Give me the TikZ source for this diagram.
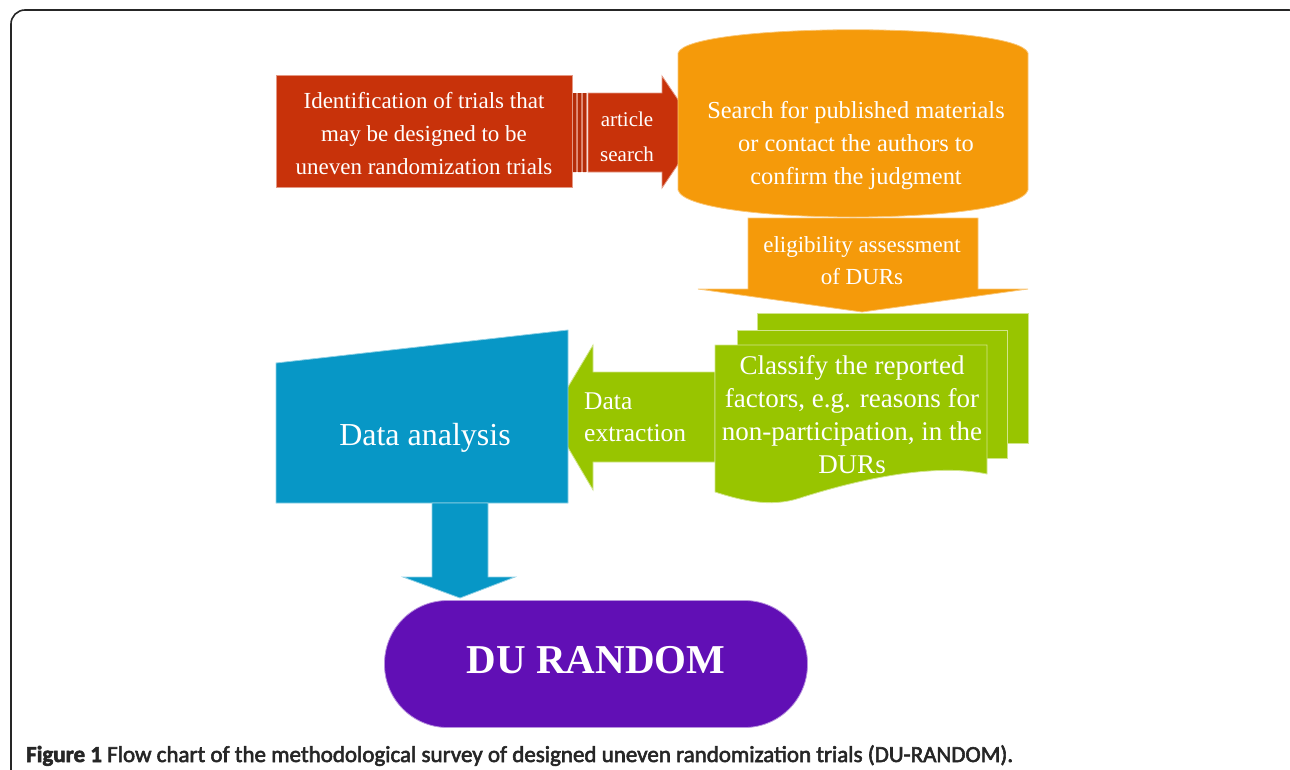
\documentclass[tikz,border=0pt]{standalone}
\usepackage{fontspec}
\setmainfont{Liberation Serif}
\newfontfamily\capfont[FakeBold=2.5]{Carlito}
\usetikzlibrary{positioning}
\definecolor{idred}{HTML}{C8320A}
\definecolor{srchorange}{HTML}{F59A0A}
\definecolor{docgreen}{HTML}{98C500}
\definecolor{anablue}{HTML}{0797C6}
\definecolor{durpurple}{HTML}{610FB5}

\begin{document}
\begin{tikzpicture}[x=1pt,y=-1pt,
		redshape/.style={fill=idred,draw=idred!50!white,line width=0.8pt},
		orangeshape/.style={fill=srchorange,draw=srchorange!55!white,line width=0.8pt},
		greenshape/.style={fill=docgreen,draw=docgreen!45!white,line width=0.8pt},
		blueshape/.style={fill=anablue,draw=anablue!45!white,line width=0.8pt},
		whitetext/.style={text=white,align=center,inner sep=0pt}
		]
		\useasboundingbox (0,0) rectangle (1290,769);
		\draw[black!85,line width=1.6pt,rounded corners=14pt] (11,775) -- (11,10) -- (1303,10) -- (1303,775);

		\node[redshape,minimum width=296pt,minimum height=112pt,whitetext,
		font=\fontsize{23}{33}\selectfont](ident) at (424,131) {};
		\node[whitetext,font=\fontsize{23}{33}\selectfont](identtxt) at (424,134)
		{Identification of trials that\\may be designed to be\\uneven randomization trials};

		\fill[idred!55!white] (573,93) rectangle (587,172);
		\fill[idred!90!black] (573,93) rectangle (576,172) (578,93) rectangle (581,172) (583,93) rectangle (586,172);
		\draw[redshape] (588,93) -- (662,93) -- (662,76) -- (700,132) -- (662,188) -- (662,172) -- (588,172) -- cycle;
		\node[whitetext,font=\fontsize{21}{35}\selectfont](artsearch) at (627,137) {article\\search};

		\draw[orangeshape] (678,53) .. controls (688,22) and (1018,22) .. (1028,53) -- (1028,190)
		.. controls (1018,226) and (688,226) .. (678,190) -- cycle;
		\node[whitetext,font=\fontsize{24.4}{33}\selectfont](searchmat) at (856,146)
		{Search for published materials\\or contact the authors to\\confirm the judgment};

		\draw[orangeshape] (748,218) -- (978,218) -- (978,289) -- (1028,289) -- (862,312) -- (698,289) -- (748,289) -- cycle;
		\node[whitetext,font=\fontsize{23}{32}\selectfont](elig) at (862,260.5) {eligibility assessment\\of DURs};

		\draw[greenshape] (715,372) -- (593,372) -- (593,345) -- (550,417) -- (593,490) -- (593,462) -- (715,462) -- cycle;
		\node[whitetext,align=left,anchor=west,font=\fontsize{25.5}{32}\selectfont](extract) at (584,417) {Data\\extraction};

		\draw[greenshape] (757,313) rectangle (1028,443);
		\draw[greenshape] (737,330) rectangle (1007,458);
		\draw[greenshape] (715,345) -- (987,345) -- (987,474) .. controls (930,462) and (850,482) .. (800,498)
		.. controls (770,508) and (740,500) .. (715,492) -- cycle;
		\node[whitetext,font=\fontsize{27}{33}\selectfont](classify) at (852,415)
		{Classify the reported\\factors, e.g. reasons for\\non-participation, in the\\DURs};

		\draw[blueshape] (276,363) -- (568,330) -- (568,503) -- (276,503) -- cycle;
		\node[whitetext,font=\fontsize{32}{36}\selectfont](analysis) at (425,438) {Data analysis};
		\draw[blueshape] (432,503) -- (488,503) -- (488,577) -- (515,577) -- (460,598) -- (403,577) -- (432,577) -- cycle;

		\node[fill=durpurple,draw=durpurple!45!white,line width=0.8pt,rounded corners=63pt,
		minimum width=423pt,minimum height=127pt](durandom) at (596,664) {};
		\node[whitetext,font=\fontsize{41}{41}\selectfont\bfseries](durtxt) at (596,660) {DU RANDOM};

		\node[anchor=base west,inner sep=0pt,text=black!85,font=\capfont\fontsize{23}{23}\selectfont](caption) at (26,762)
		{\textbf{Figure 1} Flow chart of the methodological survey of designed uneven randomization trials (DU-RANDOM).};
	\end{tikzpicture}
\end{document}
